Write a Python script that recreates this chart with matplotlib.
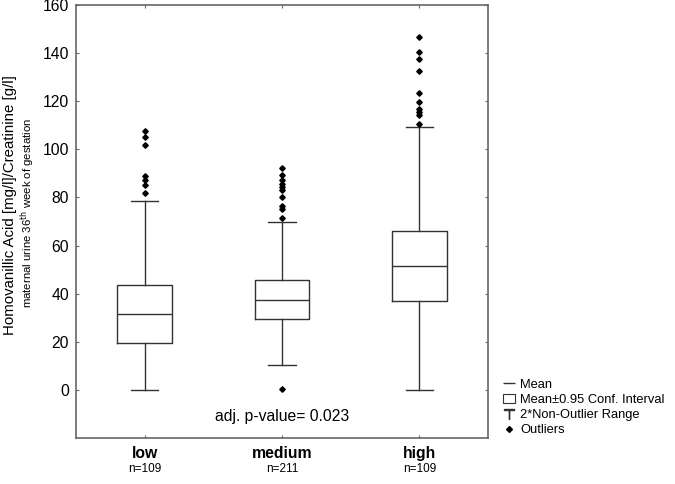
import matplotlib
matplotlib.use("Agg")
import matplotlib.pyplot as plt
from matplotlib.lines import Line2D
from matplotlib.patches import Rectangle

plt.rcParams['font.family'] = ['Liberation Sans', 'DejaVu Sans']

groups = ['low', 'medium', 'high']
counts = ['n=109', 'n=211', 'n=109']
means = [31.4, 37.4, 51.5]
box_lo = [19.5, 29.4, 36.9]
box_hi = [43.4, 45.6, 66.2]
whis_lo = [0.0, 10.3, 0.0]
whis_hi = [78.5, 69.7, 109.4]
outliers = [
    [107.6, 105.3, 101.8, 89.0, 87.3, 85.2, 82.0],
    [0.3, 92.4, 89.4, 87.3, 85.5, 84.5, 83.1, 80.1, 76.6, 75.1, 71.4],
    [146.6, 140.6, 137.7, 132.7, 123.3, 119.6, 116.7, 115.4, 114.3, 110.6],
]

stats = []
for i in range(3):
    stats.append(dict(med=means[i], q1=box_lo[i], q3=box_hi[i],
                      whislo=whis_lo[i], whishi=whis_hi[i], fliers=outliers[i]))

lc = '#333333'
fig = plt.figure(figsize=(6.75, 4.84), dpi=100)
ax = fig.add_axes([76/675, 1-438/484, 412/675, 433/484])

ax.bxp(stats, positions=[1, 2, 3], widths=0.4, showfliers=True,
       boxprops=dict(color=lc, linewidth=1),
       medianprops=dict(color=lc, linewidth=1),
       whiskerprops=dict(color=lc, linewidth=1),
       capprops=dict(color=lc, linewidth=1),
       capwidths=0.2,
       flierprops=dict(marker='D', markersize=2.8, markerfacecolor='black',
                       markeredgecolor='black', linestyle='none'))

ax.set_xlim(0.5, 3.5)
ax.set_ylim(-20, 160)
ax.set_yticks(range(0, 161, 20))
ax.set_xticks([1, 2, 3])
ax.set_xticklabels([])
ax.tick_params(direction='in', top=True, right=True, length=2.5, width=0.8,
               color='#666666', labelsize=11.3, pad=5)
for s in ax.spines.values():
    s.set_color('#666666')
    s.set_linewidth(1.2)

ax.text(2, -11, 'adj. p-value= 0.023', ha='center', va='center', fontsize=11.3)

for i in range(3):
    ax.text(i + 1, -26.5, groups[i], ha='center', va='center', fontsize=11.3,
            fontweight='bold', clip_on=False)
    ax.text(i + 1, -33, counts[i], ha='center', va='center', fontsize=8.5,
            clip_on=False)

fig.text(10/675, 1-205/484, 'Homovanillic Acid [mg/l]/Creatinine [g/l]',
         rotation=90, ha='center', va='center', fontsize=10.8)
fig.text(28/675, 1-213/484, r'maternal urine 36$^{\rm th}$ week of gestation',
         rotation=90, ha='center', va='center', fontsize=8.2)

# legend outside, right bottom
handles = [
    Line2D([], [], color=lc, linewidth=1, marker='_', markersize=8, linestyle='none'),
    Rectangle((0, 0), 1, 1, facecolor='white', edgecolor=lc, linewidth=0.8),
    Line2D([], [], color=lc, marker='$\\top$', markersize=7, linestyle='none'),
    Line2D([], [], color='black', marker='D', markersize=3, linestyle='none'),
]
labels = ['Mean', 'Mean\u00b10.95 Conf. Interval', '2*Non-Outlier Range', 'Outliers']
fig.legend(handles, labels, loc='upper left', bbox_to_anchor=(497/675, 1-372/484),
           frameon=False, fontsize=9.3, handlelength=0.9, handletextpad=0.4,
           labelspacing=0.25, borderpad=0)

fig.savefig('out.png', dpi=100)
